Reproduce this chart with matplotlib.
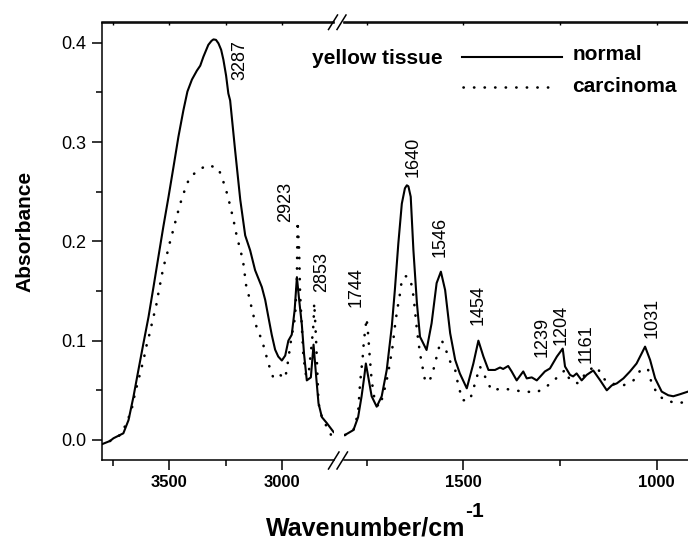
import matplotlib
matplotlib.use('Agg')
import matplotlib.pyplot as plt
from matplotlib.lines import Line2D
from matplotlib.ticker import MultipleLocator, FormatStrFormatter

plt.rcParams['font.family'] = ['Liberation Sans', 'DejaVu Sans']

# high wavenumber region (left panel)
wn_hi_normal = [3808, 3764, 3749, 3705, 3682, 3660, 3638, 3616, 3593, 3571, 3549, 3527, 3504,
                3482, 3460, 3438, 3420, 3400, 3378, 3363, 3349, 3327, 3313, 3304, 3293, 3282,
                3270, 3260, 3248, 3238, 3230, 3208, 3185, 3163, 3141, 3119, 3089, 3074, 3060,
                3045, 3030, 3016, 3000, 2985, 2971, 2956, 2943, 2933, 2923, 2911, 2901, 2889,
                2871, 2859, 2847, 2837, 2822, 2800, 2770]
abs_hi_normal = [-0.005, -0.001, 0.0017, 0.0067, 0.020, 0.0436, 0.0705, 0.097, 0.124, 0.154,
                 0.1846, 0.215, 0.245, 0.275, 0.3055, 0.332, 0.351, 0.363, 0.372, 0.377, 0.386,
                 0.398, 0.402, 0.4035, 0.403, 0.3995, 0.393, 0.383, 0.367, 0.349, 0.342, 0.292,
                 0.242, 0.206, 0.191, 0.171, 0.154, 0.141, 0.124, 0.106, 0.091, 0.084, 0.080,
                 0.085, 0.100, 0.106, 0.131, 0.164, 0.141, 0.116, 0.086, 0.060, 0.063, 0.096,
                 0.063, 0.037, 0.023, 0.017, 0.008]

wn_hi_carc = [3808, 3764, 3719, 3690, 3667, 3656, 3642, 3627, 3613, 3601, 3586, 3574, 3560,
              3549, 3538, 3527, 3512, 3497, 3482, 3467, 3452, 3433, 3411, 3371, 3329, 3282,
              3260, 3242, 3229, 3215, 3203, 3189, 3173, 3159, 3144, 3129, 3111, 3089, 3074,
              3060, 3037, 3008, 2985, 2975, 2959, 2941, 2933, 2930, 2923, 2919, 2911, 2904,
              2892, 2879, 2867, 2859, 2856, 2852, 2847, 2837, 2822, 2793, 2781]
abs_hi_carc = [-0.005, -0.001, 0.005, 0.017, 0.032, 0.044, 0.057, 0.070, 0.083, 0.096, 0.109,
               0.1215, 0.134, 0.148, 0.161, 0.174, 0.186, 0.200, 0.2125, 0.2255, 0.238, 0.251,
               0.264, 0.272, 0.277, 0.2735, 0.260, 0.247, 0.235, 0.2215, 0.208, 0.195, 0.181,
               0.156, 0.1427, 0.1276, 0.1125, 0.1007, 0.089, 0.077, 0.062, 0.0655, 0.062,
               0.0755, 0.1007, 0.124, 0.164, 0.2205, 0.191, 0.148, 0.114, 0.084, 0.064, 0.0705,
               0.097, 0.117, 0.138, 0.121, 0.097, 0.037, 0.023, 0.010, 0.005]

# fingerprint region (right panel)
wn_lo_normal = [1806, 1784, 1772, 1763, 1756, 1752, 1746, 1737, 1724, 1711, 1698, 1685, 1677,
                1668, 1659, 1651, 1646, 1642, 1636, 1629, 1620, 1612, 1595, 1582, 1569, 1558,
                1547, 1534, 1521, 1509, 1491, 1474, 1461, 1448, 1435, 1418, 1405, 1397, 1384,
                1375, 1362, 1345, 1336, 1323, 1310, 1289, 1276, 1258, 1243, 1237, 1224, 1216,
                1207, 1194, 1181, 1164, 1146, 1129, 1116, 1103, 1086, 1069, 1052, 1039, 1030,
                1017, 1004, 987, 970, 957, 940, 919]
abs_lo_normal = [0.005, 0.010, 0.023, 0.044, 0.064, 0.077, 0.064, 0.044, 0.0335, 0.044, 0.0705,
                 0.114, 0.151, 0.198, 0.238, 0.2535, 0.2565, 0.2555, 0.245, 0.191, 0.138, 0.104,
                 0.0906, 0.1175, 0.158, 0.1695, 0.151, 0.1075, 0.0806, 0.067, 0.052, 0.077,
                 0.100, 0.084, 0.0705, 0.0705, 0.073, 0.0715, 0.0745, 0.069, 0.060, 0.069, 0.062,
                 0.063, 0.060, 0.069, 0.072, 0.084, 0.092, 0.074, 0.0655, 0.064, 0.067, 0.060,
                 0.0655, 0.070, 0.060, 0.050, 0.055, 0.057, 0.062, 0.069, 0.077, 0.087, 0.094,
                 0.0806, 0.062, 0.0487, 0.045, 0.044, 0.046, 0.0487]

wn_lo_carc = [1806, 1784, 1772, 1767, 1760, 1757, 1750, 1746, 1742, 1737, 1728, 1716, 1705,
              1696, 1690, 1683, 1677, 1671, 1665, 1659, 1651, 1642, 1635, 1631, 1627, 1620,
              1612, 1599, 1591, 1582, 1573, 1565, 1556, 1545, 1534, 1521, 1513, 1502, 1483,
              1472, 1457, 1444, 1427, 1397, 1371, 1340, 1310, 1284, 1254, 1237, 1224, 1203,
              1177, 1155, 1138, 1121, 1086, 1060, 1039, 1022, 1013, 996, 978, 948, 919]
abs_lo_carc = [0.005, 0.010, 0.027, 0.057, 0.084, 0.100, 0.1225, 0.106, 0.084, 0.060, 0.037,
               0.0335, 0.0487, 0.064, 0.077, 0.094, 0.114, 0.131, 0.144, 0.161, 0.165, 0.1645,
               0.158, 0.151, 0.138, 0.111, 0.087, 0.060, 0.058, 0.064, 0.077, 0.0906, 0.1007,
               0.0906, 0.079, 0.0705, 0.055, 0.040, 0.040, 0.054, 0.074, 0.064, 0.050, 0.052,
               0.050, 0.0487, 0.048, 0.054, 0.064, 0.0705, 0.060, 0.057, 0.0705, 0.074, 0.062,
               0.057, 0.055, 0.060, 0.072, 0.0705, 0.057, 0.045, 0.040, 0.037, 0.0385]

# peak labels: (text, wavenumber, absorbance at label bottom)
peaks_hi = [('3287', 3185, 0.3625), ('2923', 2985, 0.2198), ('2853', 2825, 0.1493)]
peaks_lo = [('1744', 1776, 0.134), ('1640', 1631, 0.265), ('1546', 1560, 0.1846),
            ('1454', 1461, 0.1158), ('1239', 1295, 0.0839), ('1204', 1246, 0.0957),
            ('1161', 1183, 0.0772), ('1031', 1011, 0.1024)]

W, H = 688, 541
fig = plt.figure(figsize=(W / 100, H / 100), dpi=100)


def fx(px):
    return px / W


def fy(py):
    return 1 - py / H


bottom, top = fy(460), fy(22.5)
ax1 = fig.add_axes([fx(102), bottom, fx(334) - fx(102), top - bottom])
ax2 = fig.add_axes([fx(344), bottom, 1 - fx(344), top - bottom], sharey=ax1)

dots = dict(color='black', lw=1.9, linestyle=(0, (0.1, 3.9)), dash_capstyle='round')
ax1.plot(wn_hi_normal, abs_hi_normal, color='black', lw=1.5)
ax1.plot(wn_hi_carc, abs_hi_carc, **dots)
ax2.plot(wn_lo_normal, abs_lo_normal, color='black', lw=1.5)
ax2.plot(wn_lo_carc, abs_lo_carc, **dots)

ax1.set_xlim(3800, 2768)
ax2.set_xlim(1808.5, 919)
ax1.set_ylim(-0.0202, 0.4205)

for ax, lab in ((ax1, peaks_hi), (ax2, peaks_lo)):
    for t, x, y in lab:
        ax.text(x, y, t, rotation=90, ha='center', va='bottom', fontsize=13)

ax1.yaxis.set_major_locator(MultipleLocator(0.1))
ax1.yaxis.set_minor_locator(MultipleLocator(0.05))
ax1.yaxis.set_major_formatter(FormatStrFormatter('%.1f'))

for ax in (ax1, ax2):
    ax.xaxis.set_major_locator(MultipleLocator(500))
    ax.xaxis.set_minor_locator(MultipleLocator(250))
    for s in ax.spines.values():
        s.set_linewidth(1.1)
    ax.spines['right'].set_visible(False)
    ax.tick_params(axis='x', which='major', direction='out', length=7, width=1.1, pad=4,
                   labelsize=12)
    ax.tick_params(axis='x', which='minor', direction='out', length=4, width=1.1)
    for lbl in ax.get_xticklabels():
        lbl.set_fontweight('bold')
    # small inward ticks on the top edge
    sec = ax.secondary_xaxis('top')
    sec.xaxis.set_major_locator(MultipleLocator(500))
    sec.xaxis.set_minor_locator(MultipleLocator(250))
    sec.tick_params(which='both', direction='in', length=2.5, width=1.0, labeltop=False)
    sec.spines['top'].set_linewidth(1.1)
ax2.spines['left'].set_visible(False)
ax2.tick_params(axis='y', which='both', left=False, labelleft=False)
ax1.tick_params(axis='y', which='major', direction='out', length=7, width=1.1, pad=4,
                labelsize=13)
ax1.tick_params(axis='y', which='minor', direction='out', length=4, width=1.1)

# axis break marks
for x0 in (328.5, 337):
    fig.add_artist(Line2D([fx(x0), fx(x0 + 10.5)], [fy(469), fy(452)], color='black', lw=1.1))
    fig.add_artist(Line2D([fx(x0), fx(x0 + 9)], [fy(29.5), fy(15)], color='black', lw=1.1))

# legend
fig.text(fx(312), fy(58), 'yellow tissue', fontsize=15, fontweight='bold', va='center')
fig.add_artist(Line2D([fx(462), fx(562)], [fy(57), fy(57)], color='black', lw=1.5))
fig.add_artist(Line2D([fx(463), fx(556)], [fy(87), fy(87)], **dots))
fig.text(fx(573), fy(54), 'normal', fontsize=15, fontweight='bold', va='center')
fig.text(fx(572), fy(86), 'carcinoma', fontsize=15, fontweight='bold', va='center')

fig.text(fx(25), fy(231.5), 'Absorbance', rotation=90, fontsize=15, fontweight='bold',
         ha='center', va='center')
fig.text(fx(465), fy(535), 'Wavenumber/cm', fontsize=18, fontweight='bold',
         ha='right', va='baseline')
fig.text(fx(465), fy(517), '-1', fontsize=15, fontweight='bold', ha='left', va='baseline')

plt.savefig('out.png', dpi=100)
